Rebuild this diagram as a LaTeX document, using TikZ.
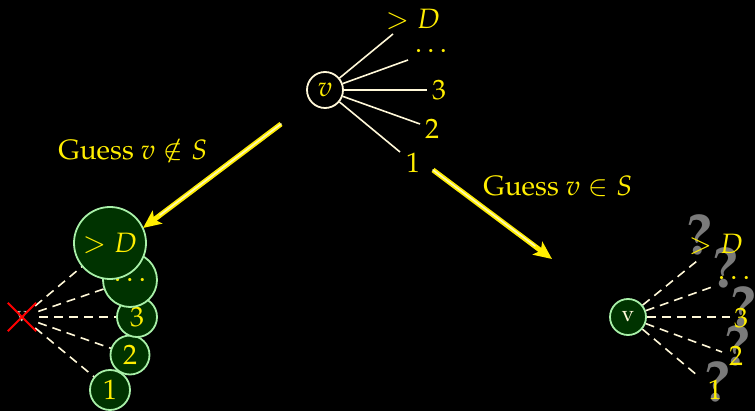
\documentclass[tikz,border=0pt]{standalone}
\usepackage[T1]{fontenc}
\usepackage{mathpazo}
\usetikzlibrary{arrows.meta}
\definecolor{ylw}{HTML}{FFEE00}
\definecolor{cream}{HTML}{FFF8D8}
\definecolor{dgreen}{HTML}{003300}
\definecolor{lgreen}{HTML}{A8F0A8}
\definecolor{qgrey}{HTML}{7A7A7A}
\definecolor{hidv}{HTML}{D0CCB8}
\begin{document}
\begin{tikzpicture}[x=1pt,y=-1pt,
  lbl/.style={text=ylw,font=\fontsize{28}{32}\selectfont,inner sep=0pt},
  topv/.style={circle,draw=cream,line width=1.8pt,fill=black,minimum size=36pt,inner sep=0pt,text=ylw,font=\fontsize{28}{32}\selectfont},
  gnode/.style={circle,draw=lgreen,line width=1.8pt,fill=dgreen,inner sep=0pt,text=ylw,font=\fontsize{28}{32}\selectfont},
  plainedge/.style={draw=cream,line width=1.6pt},
  dashedge/.style={draw=cream,line width=1.6pt,dash pattern=on 9pt off 6pt},
  qmark/.style={text=qgrey,font=\fontsize{58}{60}\selectfont\bfseries,inner sep=0pt},
  bigarrow/.style={draw=ylw,line width=5pt,-{Stealth[length=18pt,width=16pt,inset=4pt]}},
  arrowcore/.style={draw=white!70!ylw,line width=1.6pt,line cap=round},
  cross/.style={draw=red,line width=1.8pt}]
\useasboundingbox (0,0) rectangle (755,411);
\fill[black] (0,0) rectangle (755,411);

% ---- top tree ----
\node[topv] (v) at (325,90) {$v$};
\coordinate (t5) at (393,34);
\coordinate (t4) at (408,60);
\coordinate (t3) at (427,90);
\coordinate (t2) at (420,124);
\coordinate (t1) at (400,152);
\foreach \i in {1,...,5} \draw[plainedge] (v) -- (t\i);
\node[lbl] (tl5) at (413,19) {$>D$};
\node[lbl] (tl4) at (431,51) {$\dots$};
\node[lbl] (tl3) at (439,90) {3};
\node[lbl] (tl2) at (432,129) {2};
\node[lbl] (tl1) at (413,163) {1};

% ---- labels ----
\node[lbl] (gno) at (133,150) {Guess $v\notin S$};
\node[lbl] (gyes) at (558,186) {Guess $v\in S$};

% ---- left tree ----
\node[circle,minimum size=34pt,inner sep=0pt,text=hidv,font=\fontsize{22}{24}\selectfont] (xv) at (22,317) {v};
\coordinate (c1) at (110,390);
\coordinate (c2) at (130,355);
\coordinate (c3) at (137,317);
\coordinate (c4) at (130,280);
\coordinate (c5) at (110,243);
\foreach \i in {1,...,5} \draw[dashedge] (xv) -- (c\i);
\node[gnode,minimum size=40pt] (n1) at (c1) {1};
\node[gnode,minimum size=39pt] (n2) at (c2) {2};
\node[gnode,minimum size=40pt] (n3) at (c3) {3};
\node[gnode,minimum size=54pt] (n4) at (c4) {$\dots$};
\node[gnode,minimum size=72pt] (n5) at (c5) {$>D$};
\node[minimum size=28pt,inner sep=0pt] (xx) at (22,317) {};
\draw[cross] (xx.north west) -- (xx.south east);
\draw[cross] (xx.south west) -- (xx.north east);

% ---- right tree ----
\node[qmark] (q1) at (699,235) {?};
\node[qmark] (q2) at (725,268) {?};
\node[qmark] (q3) at (743,307) {?};
\node[qmark] (q4) at (737,346) {?};
\node[qmark] (q5) at (717,382) {?};
\node[gnode,minimum size=36pt,text=cream,font=\fontsize{22}{24}\selectfont] (rv) at (628,317) {v};
\coordinate (r5) at (697,261);
\coordinate (r4) at (712,287);
\coordinate (r3) at (730,317);
\coordinate (r2) at (722,352);
\coordinate (r1) at (698,376);
\foreach \i in {1,...,5} \draw[dashedge] (rv) -- (r\i);
\node[lbl] (rl5) at (716,244) {$>D$};
\node[lbl] (rl4) at (734,278) {$\dots$};
\node[lbl] (rl3) at (741,318) {3};
\node[lbl] (rl2) at (736,356) {2};
\node[lbl] (rl1) at (715,390) {1};

% ---- arrows ----
\coordinate (a1s) at (281,124);
\coordinate (a1e) at (143,228);
\coordinate (a1m) at (160,215);
\coordinate (a2s) at (433,170);
\coordinate (a2e) at (552,259);
\coordinate (a2m) at (535,246);
\draw[bigarrow] (a1s) -- (a1e);
\draw[arrowcore] (a1s) -- (a1m);
\draw[bigarrow] (a2s) -- (a2e);
\draw[arrowcore] (a2s) -- (a2m);
\end{tikzpicture}
\end{document}
